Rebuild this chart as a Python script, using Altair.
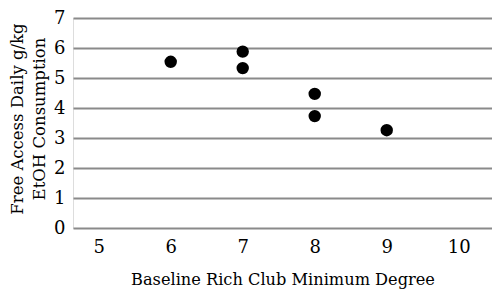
import altair as alt
import pandas as pd

degree = [6, 7, 7, 8, 8, 9]
consumption = [5.54, 5.88, 5.33, 4.47, 3.73, 3.26]
x_ticks = [5, 6, 7, 8, 9, 10]
y_ticks = [0, 1, 2, 3, 4, 5, 6, 7]

df = pd.DataFrame({"degree": degree, "consumption": consumption})

FONT = "DejaVu Serif"

chart = alt.Chart(df).mark_circle(size=154, color="black", opacity=1).encode(
    x=alt.X(
        "degree:Q",
        scale=alt.Scale(domain=[4.643, 10.462], nice=False, zero=False),
        axis=alt.Axis(
            values=x_ticks, grid=False, domain=False, ticks=False,
            labelFont=FONT, labelFontSize=18, labelColor="black", labelPadding=10,
            title="Baseline Rich Club Minimum Degree",
            titleFont=FONT, titleFontSize=16.2, titleFontWeight="normal", titleColor="black",
            titleBaseline="alphabetic", titleY=56, titleX=209.5, titleAnchor="middle",
        ),
    ),
    y=alt.Y(
        "consumption:Q",
        scale=alt.Scale(domain=[0, 7], nice=False),
        axis=alt.Axis(
            values=y_ticks, grid=True, gridColor="#8a8a8a", gridWidth=2,
            domain=False, ticks=False,
            labelFont=FONT, labelFontSize=18, labelColor="black", labelPadding=8,
            title=["Free Access Daily g/kg", "EtOH Consumption"],
            titleFont=FONT, titleFontSize=16.5, titleFontWeight="normal", titleColor="black",
            titleAngle=-90, titleBaseline="alphabetic", titleAlign="center",
            titleX=-51, titleY=100.5, titleLineHeight=22,
        ),
    ),
).properties(
    width=419, height=210,
    autosize=alt.AutoSizeParams(type="none"),
    padding={"left": 65, "top": 10, "right": 0, "bottom": 61},
).configure_view(stroke=None).configure(background="white")

chart.save("out.html", embed_options={"renderer": "svg", "actions": False})
